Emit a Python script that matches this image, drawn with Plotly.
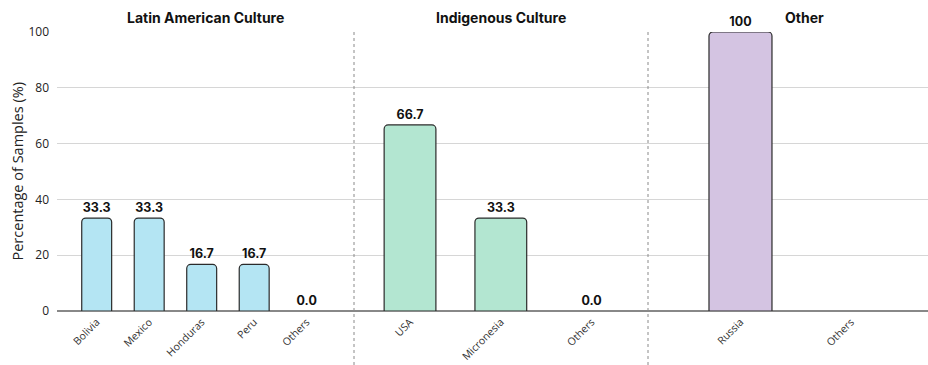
import plotly.graph_objects as go

# ---- data -------------------------------------------------------------
latin_countries = ["Bolivia", "Mexico", "Honduras", "Peru", "Others"]
latin_values = [33.3, 33.3, 16.7, 16.7, 0.0]

indigenous_countries = ["USA", "Micronesia", "Others"]
indigenous_values = [66.7, 33.3, 0.0]

other_countries = ["Russia", "Others"]
other_values = [100, None]

group_titles = ["Latin American Culture", "Indigenous Culture", "Other"]
y_ticks = [0, 20, 40, 60, 80, 100]

# ---- styling ----------------------------------------------------------
W, H = 928, 365
ML, MR, MT, MB = 57, 0, 32, 54
PW = W - ML - MR
PH = H - MT - MB

colors = ["#b4e5f3", "#b3e6d1", "#d4c4e2"]
edge = "#2b2b2b"
title_font = dict(family="Inter, Liberation Sans, sans-serif", size=14, color="#111")
value_font = dict(family="Inter, Liberation Sans, sans-serif", size=12.5,
                  color="#111", weight="bold")
tick_font = dict(family="Open Sans, Noto Sans, sans-serif", size=10.5, color="#333")


def px_x(p):
    return (p - ML) / PW


# panel boundaries (pixels) and axis ranges in category units
bounds = [ML, 354, 648, W - MR]
ranges = [[-0.756, 4.901], [-0.617, 2.621], [-0.837, 1.697]]


def label(v):
    if v is None:
        return None
    return "100" if v >= 100 else f"{v:.1f}"


groups = [
    (latin_countries, latin_values),
    (indigenous_countries, indigenous_values),
    (other_countries, other_values),
]

fig = go.Figure()
for i, (cats, vals) in enumerate(groups):
    xa = "x" if i == 0 else f"x{i + 1}"
    fig.add_trace(go.Bar(
        x=cats, y=vals, xaxis=xa, yaxis="y",
        text=[label(v) for v in vals],
        textposition="outside",
        textfont=value_font,
        cliponaxis=False,
        marker=dict(color=colors[i],
                    line=dict(color=edge,
                              width=[1.2 if v else 0 for v in vals]),
                    cornerradius=4),
        showlegend=False,
        hoverinfo="x+y",
    ))

layout = dict(
    width=W, height=H,
    margin=dict(l=ML, r=MR, t=MT, b=MB, autoexpand=False),
    paper_bgcolor="white", plot_bgcolor="white",
    bargap=0.43,
    yaxis=dict(
        range=[0, 100], tickvals=y_ticks, showgrid=True,
        gridcolor="#d6d6d6", gridwidth=1,
        zeroline=True, zerolinecolor="#888", zerolinewidth=1.5,
        showline=False, ticks="", ticklabelstandoff=7, automargin=False,
        tickfont=dict(family="Open Sans, Noto Sans, sans-serif", size=12, color="#222"),
        anchor="x",
    ),
)
for i, (cats, _) in enumerate(groups):
    key = "xaxis" if i == 0 else f"xaxis{i + 1}"
    layout[key] = dict(
        domain=[px_x(bounds[i]), px_x(bounds[i + 1])],
        range=ranges[i],
        type="category",
        categoryorder="array", categoryarray=cats,
        tickangle=-45, tickfont=tick_font, ticklabelstandoff=2,
        showgrid=False, showline=False, zeroline=False, ticks="",
        automargin=False,
        anchor="y",
    )
fig.update_layout(**layout)

# dashed separators between the groups
for b in bounds[1:3]:
    fig.add_shape(type="line", xref="paper", yref="paper",
                  x0=px_x(b), x1=px_x(b), y0=-MB / PH, y1=1,
                  line=dict(color="#8a8a8a", width=1, dash="3px,3px"))

# group headings
title_centers = [205, 501, 804]
for t, cx in zip(group_titles, title_centers):
    fig.add_annotation(text=f"<b>{t}</b>", xref="paper", yref="paper",
                       x=px_x(cx), y=1 + 15 / PH, xanchor="center", yanchor="middle",
                       showarrow=False, font=title_font)

# y-axis title
fig.add_annotation(text="Percentage of Samples (%)", xref="paper", yref="paper",
                   x=px_x(17), y=0.5, textangle=-90, showarrow=False,
                   xanchor="center", yanchor="middle",
                   font=dict(family="Open Sans, Noto Sans, sans-serif", size=14.5, color="#222"))

fig.write_html("out.html")
